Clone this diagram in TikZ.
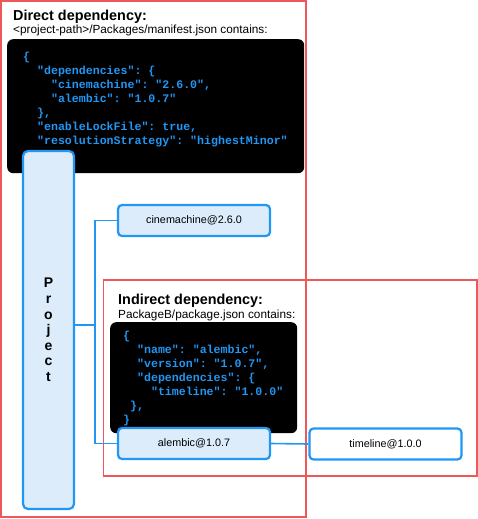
\documentclass[tikz,border=0pt]{standalone}
\usepackage{fontspec}
\setmainfont{Liberation Sans}
\setmonofont{Liberation Mono}
\usepackage{tikz}
\usetikzlibrary{calc}
\definecolor{depblue}{RGB}{33,150,243}
\definecolor{depfill}{RGB}{220,236,251}
\definecolor{depred}{RGB}{239,88,88}
\newcommand{\HEADING}[1]
{
    {\fontsize{14.4}{16}\selectfont\bfseries #1}
}
\newcommand{\SUBHEADING}[1]
{
    {\fontsize{11.8}{14}\selectfont #1}
}
\newcommand{\IND}[1]{\hspace*{#1\dimexpr 0.6em\relax}}
\tikzset{
  depframe/.style={draw=depred,line width=1.3pt},
  codebox/.style={fill=black,rounded corners=6pt,inner sep=0pt,anchor=north west},
  codetext/.style={anchor=north west,inner sep=0pt,align=left,text=depblue,
    font=\ttfamily\bfseries\fontsize{11.6}{14}\selectfont},
  caption/.style={anchor=base west,inner sep=0pt},
  pkg/.style={draw=depblue,line width=2.2pt,rounded corners=4pt,fill=depfill,
    minimum width=152pt,minimum height=31pt,inner sep=0pt,
    font=\fontsize{10.8}{12}\selectfont},
  link/.style={draw=depblue,line width=1.6pt},
}

\begin{document}
\begin{tikzpicture}[x=1pt,y=-1pt]
        \useasboundingbox (0,0) rectangle (478,519);
        \draw[depframe] (1,1) rectangle (306,517);
        \draw[depframe] (103.5,280) rectangle (477,476);

        \node[caption] (directtitle) at (13,21) {\HEADING{Direct dependency:}};
        \node[caption] (directsub) at (13,34) {\SUBHEADING{<project-path>/Packages/manifest.json contains:}};
        \node[codebox,minimum width=297pt,minimum height=134pt] (manifest) at (7,39) {};
        \node[codetext] (manifestcode) at (23,52) {
            \{\\
            \IND{2}"dependencies": \{\\
            \IND{4}"cinemachine": "2.6.0",\\
            \IND{4}"alembic": "1.0.7"\\
            \IND{2}\},\\
            \IND{2}"enableLockFile": true,\\
            \IND{2}"resolutionStrategy": "highestMinor"
        };

        \node[caption] (indirecttitle) at (118,304) {\HEADING{Indirect dependency:}};
        \node[caption] (indirectsub) at (118,318.5) {\SUBHEADING{PackageB/package.json contains:}};
        \node[codebox,minimum width=187pt,minimum height=111pt] (package) at (110,322) {};
        \node[codetext] (packagecode) at (123,331) {
            \{\\
            \IND{2}"name": "alembic",\\
            \IND{2}"version": "1.0.7",\\
            \IND{2}"dependencies": \{\\
            \IND{4}"timeline": "1.0.0"\\
            \IND{1}\},\\
            \}
        };

        \node[pkg,minimum width=51pt,minimum height=358pt,rounded corners=5pt,align=center,
            font=\bfseries\fontsize{14}{15.6}\selectfont] (project) at (48.5,330)
            {P\\r\\o\\j\\e\\c\\t};
        \node[pkg] (cine) at (194,220.5) {cinemachine@2.6.0};
        \node[pkg] (alembic) at (194,443.5) {alembic@1.0.7};
        \node[pkg,fill=white] (timeline) at (385.5,444) {timeline@1.0.0};

        \coordinate (bus) at (95,325);
        \draw[link] (cine.west) -| (bus) |- (alembic.west);
        \draw[link] (project.east |- bus) -- (bus);
        \draw[link] (alembic.east) -- (timeline.west);
\end{tikzpicture}
\end{document}
